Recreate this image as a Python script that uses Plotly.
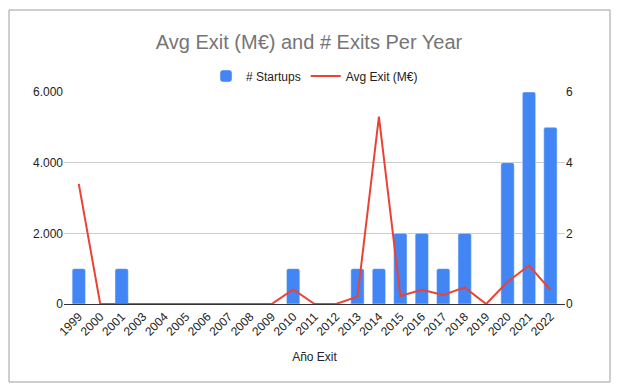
import plotly.graph_objects as go

years = ["1999", "2000", "2001", "2003", "2004", "2005", "2006", "2007", "2008", "2009",
         "2010", "2011", "2012", "2013", "2014", "2015", "2016", "2017", "2018", "2019",
         "2020", "2021", "2022"]
startups = [1, 0, 1, 0, 0, 0, 0, 0, 0, 0, 1, 0, 0, 1, 1, 2, 2, 1, 2, 0, 4, 6, 5]
avg_exit = [3400, 0, 0, 0, 0, 0, 0, 0, 0, 0, 415, 0, 0, 210, 5300, 230, 400, 255, 470, 0, 630, 1090, 400]

FONT = "Liberation Sans, Arial, sans-serif"
W, H = 618, 389
L, R, T, B = 64, 53, 92, 85
pw, ph = W - L - R, H - T - B

fig = go.Figure()
fig.add_trace(go.Bar(x=years, y=startups, name="# Startups", marker_color="#4285f4",
                     yaxis="y"))
fig.add_trace(go.Scatter(x=years, y=avg_exit, name="Avg Exit (M€)", mode="lines",
                         line=dict(color="#ea4335", width=2), yaxis="y2"))

def px_x(p):
    return (p - L) / pw

def px_y(p):
    return (H - B - p) / ph

fig.update_layout(
    width=W, height=H,
    margin=dict(l=L, r=R, t=T, b=B),
    paper_bgcolor="white", plot_bgcolor="white",
    separators=",.",
    font=dict(family=FONT, size=12, color="#222222"),
    title=dict(text="Avg Exit (M€) and # Exits Per Year", x=0.5, xanchor="center",
               y=1 - 42 / H, yanchor="middle",
               font=dict(family=FONT, size=20, color="#757575")),
    legend=dict(orientation="h", x=0.5, xanchor="center", y=px_y(76), yanchor="middle",
                font=dict(size=12, color="#222222"), bgcolor="rgba(0,0,0,0)",
                itemwidth=30),
    bargap=0.38,
    barcornerradius=2,
    xaxis=dict(type="category", range=[-0.69, 22.68], tickangle=-45,
               showgrid=False, showline=True, linecolor="#333333", linewidth=1,
               ticks="", tickfont=dict(size=12, color="#222222"),
               title=dict(text="Año Exit", font=dict(size=12, color="#222222"), standoff=14)),
    yaxis=dict(side="right", range=[0, 6], tickvals=[0, 2, 4, 6], showgrid=True,
               gridcolor="#cccccc", zeroline=False, showline=False, ticks="",
               tickfont=dict(size=12, color="#222222")),
    yaxis2=dict(side="left", overlaying="y", range=[0, 6000],
                tickvals=[0, 2000, 4000, 6000], tickformat=",d", showgrid=False,
                zeroline=False, showline=False, ticks="",
                tickfont=dict(size=12, color="#222222")),
    shapes=[dict(type="rect", xref="paper", yref="paper",
                 x0=px_x(9), x1=px_x(610), y0=px_y(382), y1=px_y(10),
                 line=dict(color="#9e9e9e", width=1), fillcolor="rgba(0,0,0,0)",
                 layer="below")],
)

fig.write_html("out.html", config={"displayModeBar": False},
               post_script="document.body.style.margin='0';")
